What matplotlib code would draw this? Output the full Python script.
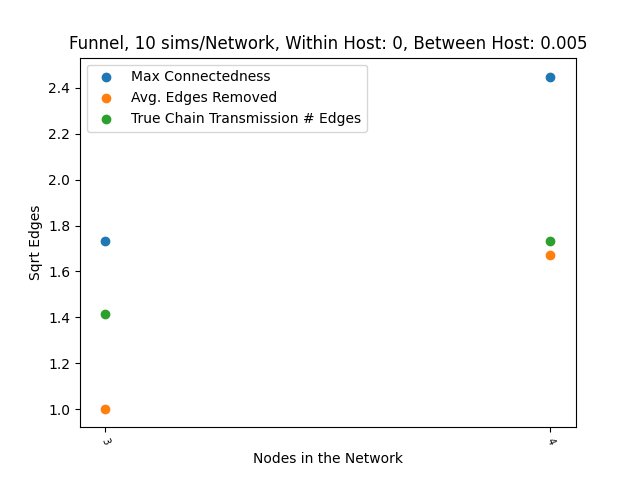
import matplotlib
matplotlib.use("Agg")
import matplotlib.pyplot as plt
import numpy as np

nodes = [3, 4]
max_conn = [np.sqrt(3), np.sqrt(6)]
avg_removed = [1.0, 1.673]
true_chain = [np.sqrt(2), np.sqrt(3)]
tick_labels = ["3", "4"]

fig, ax = plt.subplots(figsize=(6.4, 4.8), dpi=100)
ax.scatter(nodes, max_conn, label="Max Connectedness")
ax.scatter(nodes, avg_removed, label="Avg. Edges Removed")
ax.scatter(nodes, true_chain, label="True Chain Transmission # Edges")
ax.set_xticks(nodes)
ax.set_xticklabels(tick_labels, rotation=-65, fontsize=7)
ax.set_xlim(2.944, 4.058)
ax.set_ylim(0.921, 2.532)
ax.set_xlabel("Nodes in the Network")
ax.set_ylabel("Sqrt Edges")
ax.set_title("Funnel, 10 sims/Network, Within Host: 0, Between Host: 0.005")
ax.legend(loc="upper left")
fig.savefig("out.png")
